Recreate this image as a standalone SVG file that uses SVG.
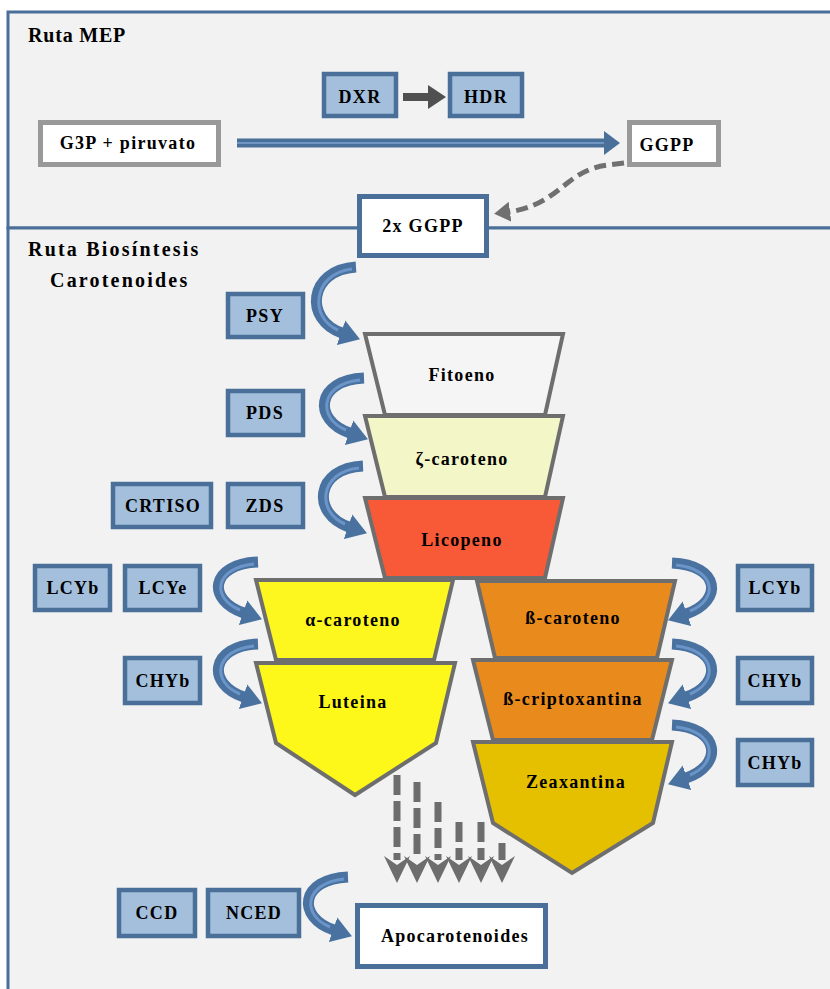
<svg xmlns="http://www.w3.org/2000/svg" width="830" height="989" viewBox="0 0 830 989">
<style>
text{font-family:"Liberation Serif","DejaVu Serif",serif;font-weight:bold;font-size:18px;letter-spacing:1.3px;fill:#000;text-anchor:middle;dominant-baseline:central}
.panel{fill:#f2f2f2;stroke:#4a6f99;stroke-width:3}
.enz{fill:#a3bfdc;stroke:#4a6f99;stroke-width:4.5}
.wbox{fill:#fff;stroke:#4a6f99;stroke-width:5}
.gbox{fill:#fff;stroke:#999;stroke-width:5}
.trap{stroke:#6e6e6e;stroke-width:4;stroke-linejoin:miter}
.carc{fill:none;stroke:#4a72a0;stroke-width:11}
.carci{fill:none;stroke:#6b95c8;stroke-width:3}
.dash{fill:none;stroke:#6d6d6d;stroke-width:7;stroke-dasharray:20 6}
.title{text-anchor:start;font-size:20px;letter-spacing:2.2px}
</style>
<defs>
<marker id="bh" markerUnits="userSpaceOnUse" viewBox="0 0 20 26" refX="1" refY="13" markerWidth="20" markerHeight="26" orient="auto">
<path d="M0,0 L20,13 L0,26 Z" fill="#4a72a0"/>
</marker>
<marker id="gh" markerUnits="userSpaceOnUse" viewBox="0 0 16 20" refX="2" refY="10" markerWidth="16" markerHeight="20" orient="auto">
<path d="M0,0 L16,10 L0,20 Z" fill="#707070"/>
</marker>
</defs>
<rect x="0" y="0" width="830" height="989" fill="#fff"/>
<rect class="panel" x="8" y="12" width="830" height="216"/>
<rect class="panel" x="8" y="228" width="830" height="780"/>
<text class="title" x="28" y="35" style="letter-spacing:0.8px">Ruta MEP</text>
<text class="title" x="28" y="249">Ruta  Biosíntesis</text>
<text class="title" x="50" y="280">Carotenoides</text>

<g id="connectors">
<path d="M237,143 H606" stroke="#4a6f99" stroke-width="9" fill="none"/>
<path d="M237,143 H606" stroke="#7097c4" stroke-width="2" fill="none"/>
<polygon points="604,131 620,143 604,155" fill="#4a6f99"/>
<path d="M403,97 H430" stroke="#505050" stroke-width="8"/>
<polygon points="428,85 446,97 428,109" fill="#505050"/>
<path d="M624,163 L608,165 C565,170 560,205 508,212" fill="none" stroke="#707070" stroke-width="5" stroke-dasharray="12 6" marker-end="url(#gh)"/>
<g class="dashes">
<path class="dash" d="M397,775 V860"/>
<path class="dash" d="M417,782 V860"/>
<path class="dash" d="M438,802 V860"/>
<path class="dash" d="M459,822 V860"/>
<path class="dash" d="M481,822 V860"/>
<path class="dash" d="M502,843 V860"/>
<g fill="#6d6d6d">
<polygon points="384,856 397,865 410,856 397,883"/>
<polygon points="404,856 417,865 430,856 417,883"/>
<polygon points="425,856 438,865 451,856 438,883"/>
<polygon points="446,856 459,865 472,856 459,883"/>
<polygon points="468,856 481,865 494,856 481,883"/>
<polygon points="489,856 502,865 515,856 502,883"/>
</g>
</g>
</g>

<g id="top">
<g id="g3p"><rect class="gbox" x="40.5" y="122.5" width="178" height="42"/><text x="128" y="143">G3P + piruvato</text></g>
<g id="ggpp"><rect class="gbox" x="629.5" y="122.5" width="89" height="42"/><text x="667" y="145">GGPP</text></g>
<g id="dxr"><rect class="enz" x="324" y="74" width="72" height="42"/><text x="360" y="97">DXR</text></g>
<g id="hdr"><rect class="enz" x="450" y="74" width="72" height="42"/><text x="486" y="97">HDR</text></g>
<g id="ggpp2"><rect class="wbox" x="359.5" y="196.5" width="127" height="59"/><text x="423" y="226">2x  GGPP</text></g>
</g>

<g id="fitoeno"><polygon class="trap" fill="#f5f5f5" points="365,334 563,334 545,415 385,415"/><text x="462" y="375">Fitoeno</text></g>
<g id="zcaroteno"><polygon class="trap" fill="#f3f6c6" points="365,416 563,416 545,497 385,497"/><text x="462" y="459">ζ-caroteno</text></g>
<g id="licopeno"><polygon class="trap" fill="#f85a38" points="365,498 563,498 545,578 385,578"/><text x="462" y="540">Licopeno</text></g>
<g id="acaroteno"><polygon class="trap" fill="#fdf71f" points="256,580 453,580 434,660 276,660"/><text x="353" y="620">α-caroteno</text></g>
<g id="luteina"><polygon class="trap" fill="#fdf81a" points="256,663 455,663 436,743 355,795 276,743"/><text x="353" y="702">Luteina</text></g>
<g id="bcaroteno"><polygon class="trap" fill="#e98a1c" points="477,581 675,581 657,658 495,658"/><text x="573" y="618">ß-caroteno</text></g>
<g id="bcripto"><polygon class="trap" fill="#e98a1c" points="473,660 672,660 652,740 493,740"/><text x="573" y="699">ß-criptoxantina</text></g>
<g id="zeaxantina"><polygon class="trap" fill="#e5c000" points="473,742 672,742 653,823 572,873 493,823"/><text x="576" y="782">Zeaxantina</text></g>

<g id="enzymes">
<g id="psy"><rect class="enz" x="228" y="294" width="75" height="43"/><text x="265" y="316">PSY</text></g>
<g id="pds"><rect class="enz" x="228" y="391" width="75" height="44"/><text x="265" y="413">PDS</text></g>
<g id="crtiso"><rect class="enz" x="113" y="484" width="98" height="43"/><text x="163" y="506">CRTISO</text></g>
<g id="zds"><rect class="enz" x="228" y="484" width="75" height="43"/><text x="265" y="506">ZDS</text></g>
<g id="lcyb1"><rect class="enz" x="35" y="566" width="75" height="44"/><text x="73" y="588">LCYb</text></g>
<g id="lcye"><rect class="enz" x="125" y="566" width="75" height="44"/><text x="163" y="588">LCYe</text></g>
<g id="chyb1"><rect class="enz" x="125" y="658" width="75" height="45"/><text x="163" y="681">CHYb</text></g>
<g id="lcyb2"><rect class="enz" x="738" y="566" width="74" height="44"/><text x="775" y="588">LCYb</text></g>
<g id="chyb2"><rect class="enz" x="738" y="658" width="74" height="45"/><text x="775" y="681">CHYb</text></g>
<g id="chyb3"><rect class="enz" x="738" y="740" width="74" height="45"/><text x="775" y="763">CHYb</text></g>
<g id="ccd"><rect class="enz" x="119" y="890" width="76" height="46"/><text x="157" y="913">CCD</text></g>
<g id="nced"><rect class="enz" x="208" y="890" width="91" height="46"/><text x="254" y="913">NCED</text></g>
<g id="apo"><rect class="wbox" x="357.5" y="905.5" width="188" height="61"/><text x="455" y="936">Apocarotenoides</text></g>
</g>

<g id="curved-arrows">
<path class="carc" marker-end="url(#bh)" d="M356,267 C308,270 304,320 342,333"/>
<path class="carci" d="M352,269 C312,274 309,318 338,330"/>
<path class="carc" marker-end="url(#bh)" d="M364,378 C316,380 312,420 350,433"/>
<path class="carci" d="M360,380 C320,384 317,418 346,430"/>
<path class="carc" marker-end="url(#bh)" d="M363,466 C315,468 311,514 349,527"/>
<path class="carci" d="M359,468 C319,472 316,512 345,524"/>
<path class="carc" marker-end="url(#bh)" d="M258,562 C210,564 206,600 244,613"/>
<path class="carci" d="M254,564 C214,568 211,598 240,610"/>
<path class="carc" marker-end="url(#bh)" d="M258,644 C210,646 206,684 244,697"/>
<path class="carci" d="M254,646 C214,650 211,682 240,694"/>
<path class="carc" marker-end="url(#bh)" d="M348,877 C300,879 296,917 334,930"/>
<path class="carci" d="M344,879 C304,883 301,915 330,927"/>
<path class="carc" marker-end="url(#bh)" d="M672,563 C720,565 724,601 686,614"/>
<path class="carci" d="M676,565 C716,569 719,599 690,611"/>
<path class="carc" marker-end="url(#bh)" d="M672,644 C720,646 724,684 686,697"/>
<path class="carci" d="M676,646 C716,650 719,682 690,694"/>
<path class="carc" marker-end="url(#bh)" d="M672,725 C720,727 724,765 686,778"/>
<path class="carci" d="M676,727 C716,731 719,763 690,775"/>
</g>
</svg>
